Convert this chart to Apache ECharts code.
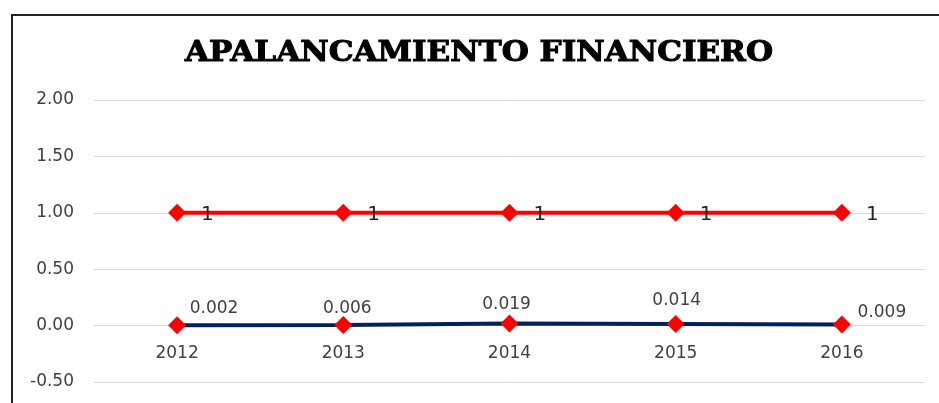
<!DOCTYPE html>
<html>
<head>
<meta charset="utf-8">
<script src="https://cdn.jsdelivr.net/npm/echarts@6/dist/echarts.min.js"></script>
<style>html,body{margin:0;padding:0;background:#fff;}#c{width:939px;height:403px;}</style>
</head>
<body>
<div id="c"></div>
<script>
const categories = ['2012', '2013', '2014', '2015', '2016'];
const redValues = [1, 1, 1, 1, 1];
const blueValues = [0.002, 0.006, 0.019, 0.014, 0.009];
const yTicks = { min: -0.5, max: 2, interval: 0.5 };
const titleText = 'APALANCAMIENTO FINANCIERO';

// label styling offsets (presentation only)
const blueLabelOffsets = [[37, 6], [4, 6], [-3, 4], [1, -1], [40, 10]];

const chart = echarts.init(document.getElementById('c'));
const txt = '#404040';
chart.setOption({
  animation: false,
  backgroundColor: '#fff',
  graphic: [{
    type: 'rect', silent: true, z: 100,
    shape: { x: 12, y: 15, width: 1000, height: 500 },
    style: { fill: 'none', stroke: '#222', lineWidth: 2 }
  }, {
    type: 'text', silent: true, z: 100,
    x: 479, y: 54, scaleX: 1.11, scaleY: 1,
    style: {
      text: titleText, align: 'center', verticalAlign: 'middle',
      fontFamily: 'DejaVu Serif', fontWeight: 'bold', fontSize: 28, fill: '#000',
      stroke: '#000', lineWidth: 1,
      shadowColor: 'rgba(0,0,0,0.45)', shadowBlur: 2, shadowOffsetX: 1, shadowOffsetY: 1
    }
  }],
  grid: { left: 94, right: 14, top: 100, bottom: 21, outerBoundsMode: 'none', containLabel: false },
  xAxis: {
    type: 'category', data: categories, boundaryGap: true,
    position: 'bottom', offset: -56.5,
    axisLine: { show: false, onZero: false },
    axisTick: { show: false },
    axisLabel: { color: txt, fontFamily: 'DejaVu Sans', fontSize: 17, margin: 20 },
    splitLine: { show: false }
  },
  yAxis: {
    type: 'value', min: yTicks.min, max: yTicks.max, interval: yTicks.interval,
    axisLine: { show: false }, axisTick: { show: false },
    axisLabel: { color: txt, fontFamily: 'DejaVu Sans', fontSize: 17, margin: 20,
      formatter: v => v.toFixed(2) },
    splitLine: { lineStyle: { color: '#d9d9d9', width: 1 } }
  },
  series: [
    {
      type: 'line', data: blueValues.map((v, i) => ({
        value: v,
        label: { offset: blueLabelOffsets[i] }
      })),
      lineStyle: { color: '#002060', width: 4 },
      itemStyle: { color: '#ff0000' },
      symbol: 'diamond', symbolSize: 18,
      label: { show: true, position: 'top', distance: 5, color: txt, fontFamily: 'DejaVu Sans', fontSize: 17,
        formatter: p => p.value.toFixed(3) },
      z: 3
    },
    {
      type: 'line', data: redValues,
      lineStyle: { color: '#ff0000', width: 4 },
      itemStyle: { color: '#ff0000' },
      symbol: 'diamond', symbolSize: 18,
      label: { show: true, position: 'right', distance: 5, offset: [10, 2], color: '#262626', fontFamily: 'DejaVu Sans', fontSize: 20 },
      z: 4
    }
  ]
});
</script>
</body>
</html>
